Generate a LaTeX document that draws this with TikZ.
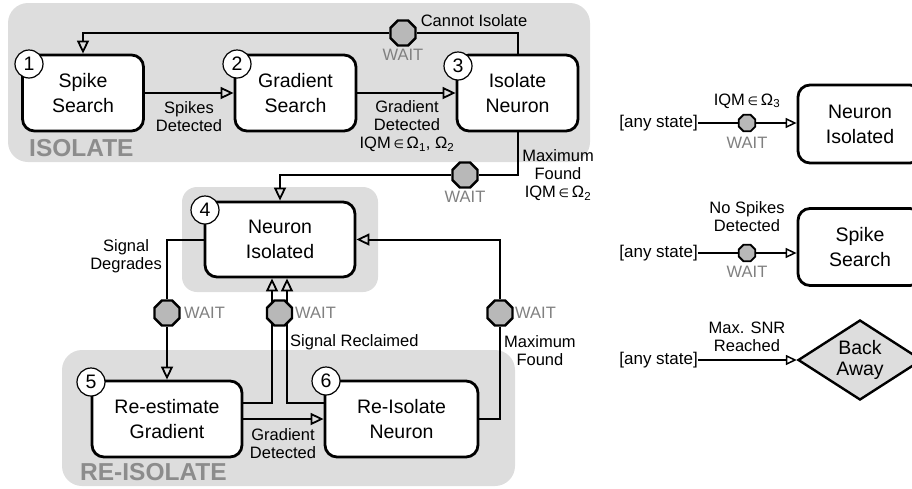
\documentclass[tikz,border=0pt]{standalone}
\usepackage{fontspec}
\setmainfont{Liberation Sans}
\newfontfamily\dejavu{DejaVu Sans}
\newcommand{\elemof}{\,{\dejavu\fontsize{12}{12}\selectfont ∈}\,}
\usetikzlibrary{arrows.meta,shapes.geometric}
\definecolor{bggray}{RGB}{221,221,221}
\definecolor{waitgray}{RGB}{184,184,184}
\definecolor{waittext}{RGB}{128,128,128}
\definecolor{grouptext}{RGB}{140,140,140}

\begin{document}
\begin{tikzpicture}[x=1pt,y=-1pt,
                    state/.style={draw,line width=2.8pt,rounded corners=12pt,fill=white,
                                  minimum width=121pt,minimum height=76pt,align=center,
                                  font=\fontsize{19.5}{25}\selectfont},
                    num/.style={circle,draw,line width=1.2pt,fill=white,minimum size=28pt,
                                inner sep=0pt,font=\fontsize{19.5}{25}\selectfont},
                    wait/.style={regular polygon,regular polygon sides=8,draw,line width=2.4pt,
                                 fill=waitgray,minimum size=27pt,inner sep=0pt},
                    smallwait/.style={wait,line width=1.8pt,minimum size=18pt},
                    group/.style={fill=bggray,rounded corners=20pt},
                    grouplabel/.style={text=grouptext,inner sep=0pt,
                                       font=\fontsize{24.5}{25}\selectfont\bfseries},
                    lbl/.style={align=center,inner sep=0pt,font=\fontsize{16.5}{18}\selectfont},
                    anylbl/.style={lbl,anchor=east,font=\fontsize{17}{18}\selectfont},
                    waitlbl/.style={text=waittext,inner sep=0pt,font=\fontsize{16.5}{18}\selectfont},
                    link/.style={line width=2pt},
                    arr/.style={link,-{Triangle[open,length=13pt,width=12pt,line width=1.8pt]}},
                    thinlink/.style={line width=1.3pt},
                    thinarr/.style={thinlink,-{Triangle[open,length=11pt,width=10pt,line width=1.5pt]}}
                  ]
  \useasboundingbox (0,0) rectangle (912,488);
  \fill[group] (8,3) rectangle (590,162);
  \fill[group,rounded corners=15pt] (182,187) rectangle (378,292);
  \fill[group] (62,350) rectangle (515,486);
  \node[grouplabel,anchor=west] (isolate) at (29,148) {ISOLATE};
  \node[grouplabel,anchor=west] (reisolate) at (80,472) {RE-ISOLATE};

  \node[state] (ss) at (83,93) {Spike\\Search};
  \node[state] (gs) at (295.5,93) {Gradient\\Search};
  \node[state] (isn) at (517.5,93) {Isolate\\Neuron};
  \node[state,minimum width=150pt,minimum height=75pt] (ni) at (280,239.5) {Neuron\\Isolated};
  \node[state,minimum width=150pt] (rg) at (167,419) {Re-estimate\\Gradient};
  \node[state,minimum width=153pt] (ri) at (401.5,419) {Re-Isolate\\Neuron};

  \node[num] (n1) at (29,64) {1};
  \node[num] (n2) at (237,64) {2};
  \node[num] (n3) at (458,66) {3};
  \node[num] (n4) at (205,210) {4};
  \node[num] (n5) at (91,382) {5};
  \node[num] (n6) at (326,381) {6};

  \node[wait] (w1) at (403,33) {};
  \node[wait] (w2) at (465,175) {};
  \node[wait] (w3) at (167,313) {};
  \node[wait] (w5) at (500,313) {};

  \draw[arr] (ss.east) -- (gs.west);
  \draw[arr] (gs.east) -- (isn.west);
  \draw[link] (isn.north) |- (w1);
  \draw[arr] (w1) -| (ss.north);
  \draw[link] (isn.south) |- (w2);
  \draw[arr] (w2) -| (ni.north);
  \draw[link] (ni.west) -| (w3);
  \draw[arr] (w3) -- (rg.north);
  \draw[arr] (rg.east) -- (ri.west);
  \draw[arr] ([yshift=16pt]rg.east) -| ([xshift=-8pt]ni.south);
  \draw[arr] ([yshift=16pt]ri.west) -| ([xshift=7pt]ni.south);
  \node[wait] (w4) at (279.5,313) {};
  \draw[link] (ri.east) -| (w5);
  \draw[arr] (w5) |- (ni.east);

  \node[lbl] (l12) at (189,117) {Spikes\\Detected};
  \node[lbl] (l23) at (407,126) {Gradient\\Detected\\IQM\elemof Ω\textsubscript{1}, Ω\textsubscript{2}};
  \node[lbl] (l31) at (474,21) {Cannot Isolate};
  \node[lbl] (l34) at (558,175) {Maximum\\Found\\IQM\elemof Ω\textsubscript{2}};
  \node[lbl,anchor=east] (l45) at (162,256) {Signal\\Degrades};
  \node[lbl] (l56) at (283,444) {Gradient\\Detected};
  \node[lbl,anchor=west] (l64a) at (290,342) {Signal Reclaimed};
  \node[lbl,anchor=west] (l64b) at (504,351) {Maximum\\Found};
  \node[waitlbl] (wl1) at (403,55) {WAIT};
  \node[waitlbl] (wl2) at (465,197) {WAIT};
  \node[waitlbl,anchor=west] (wl3) at (184,313) {WAIT};
  \node[waitlbl,anchor=west] (wl4) at (295,313) {WAIT};
  \node[waitlbl,anchor=west] (wl5) at (515,313) {WAIT};

  \node[anylbl] (any1) at (698,123) {[any state]};
  \node[state,minimum width=124pt,minimum height=78pt] (bni) at (860,124) {Neuron\\Isolated};
  \node[smallwait] (sw1) at (747,123) {};
  \draw[thinlink] (any1) -- (sw1);
  \draw[thinarr] (sw1) -- (sw1 -| bni.west);
  \node[lbl] (la1) at (747,101) {IQM\elemof Ω\textsubscript{3}};
  \node[waitlbl] (wa1) at (747,143) {WAIT};

  \node[anylbl] (any2) at (698,253) {[any state]};
  \node[state,minimum width=124pt,minimum height=77pt] (bss) at (860,247) {Spike\\Search};
  \node[smallwait] (sw2) at (747,253) {};
  \draw[thinlink] (any2) -- (sw2);
  \draw[thinarr] (sw2) -- (sw2 -| bss.west);
  \node[lbl] (la2) at (747,217) {No Spikes\\Detected};
  \node[waitlbl] (wa2) at (747,272) {WAIT};

  \node[anylbl] (any3) at (698,360) {[any state]};
  \node[diamond,draw,line width=2.4pt,fill=bggray,aspect=1.55,minimum width=124pt,
        minimum height=80pt,inner sep=0pt,align=center,
        font=\fontsize{19.5}{21}\selectfont] (ba) at (860,360) {Back\\Away};
  \draw[thinarr] (any3) -- (ba.west);
  \node[lbl] (la3) at (747,337) {Max. SNR\\Reached};
\end{tikzpicture}
\end{document}
